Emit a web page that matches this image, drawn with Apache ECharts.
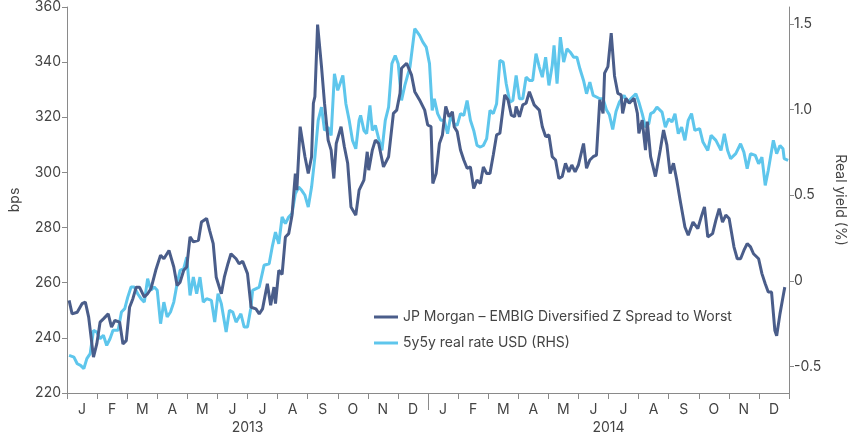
<!DOCTYPE html>
<html>
<head>
<meta charset="utf-8">
<script src="https://cdn.jsdelivr.net/npm/echarts@6/dist/echarts.min.js"></script>
<style>
  html, body { margin: 0; padding: 0; background: #fff; }
  #chart { width: 855px; height: 438px; }
</style>
</head>
<body>
<div id="chart"></div>
<script>
// months counted from 1 Jan 2013
const monthLabels = ['J','F','M','A','M','J','J','A','S','O','N','D','J','F','M','A','M','J','J','A','S','O','N','D']
const yearLabels = ['2013', '2014']
const rhsTicks = [-0.5, 0, 0.5, 1, 1.5]

// JP Morgan EMBIG Diversified Z spread (bps, left axis)
const spreadMonths = [0.07,0.17,0.34,0.50,0.61,0.72,0.88,0.99,1.10,1.21,1.37,1.48,1.59,1.75,1.86,1.97,2.08,2.19,2.30,2.41,2.57,2.68,2.79,2.95,3.11,3.22,3.39,3.55,3.66,3.76,3.88,3.98,4.09,4.20,4.37,4.47,4.64,4.74,4.86,4.96,5.13,5.23,5.35,5.45,5.62,5.72,5.84,6.00,6.12,6.28,6.39,6.50,6.66,6.77,6.88,6.93,7.04,7.15,7.26,7.37,7.48,7.59,7.64,7.75,7.91,8.02,8.13,8.19,8.24,8.33,8.46,8.56,8.68,8.78,8.87,8.95,9.11,9.22,9.33,9.44,9.60,9.71,9.87,9.98,10.03,10.15,10.25,10.36,10.52,10.69,10.85,10.96,11.07,11.12,11.29,11.45,11.56,11.72,11.89,11.99,12.10,12.16,12.27,12.38,12.48,12.59,12.70,12.81,12.87,12.97,13.08,13.19,13.30,13.41,13.52,13.63,13.74,13.84,13.95,14.06,14.17,14.28,14.39,14.55,14.66,14.77,14.88,14.93,15.04,15.15,15.26,15.37,15.53,15.70,15.80,15.91,16.02,16.13,16.24,16.35,16.46,16.57,16.68,16.78,16.89,17.00,17.17,17.27,17.38,17.49,17.60,17.71,17.82,17.87,17.98,18.09,18.20,18.31,18.42,18.47,18.58,18.69,18.85,18.96,19.01,19.12,19.23,19.29,19.40,19.56,19.72,19.83,19.94,20.05,20.16,20.27,20.38,20.54,20.65,20.81,20.97,21.08,21.19,21.30,21.46,21.57,21.68,21.79,21.90,22.01,22.17,22.28,22.39,22.50,22.61,22.72,22.82,22.99,23.10,23.21,23.31,23.42,23.53,23.59,23.70,23.80,23.86]
const spreadBps = [253.6,248.7,249.3,252.4,253,247.5,233,237.8,245.7,246.9,248.7,243.9,246.3,245.7,237.8,239,251.1,254.2,258.4,258.4,254.8,256,257.8,264.5,270,268.7,271.7,265.7,259,260.2,264.5,265.7,276.6,274.8,275.4,282,283.3,279,274.2,262,256,262,266.9,270.5,268.7,266.9,267.8,263.3,251.1,250.5,248.7,250.5,259.6,251.8,258.4,252.4,264.5,263,276.6,277.8,284.5,299.6,293.6,316.6,305.7,299.6,305.7,325.1,327.5,353.6,338.4,325.1,311.7,308.1,297.8,310.5,316.6,309.3,303.3,287.5,284.5,293.6,297.2,307.5,300.8,308.1,311.7,310.5,302,305.7,321.4,322.6,328.7,337.8,339.6,335.4,329.3,326.3,322.6,317.2,316.6,296,299.6,310.5,313.6,323.9,320.2,322,316.6,314.8,308.1,304.5,301.5,302,294.2,297.2,296,302,299.6,299.6,306.3,313.6,314.2,328.1,326.3,320.8,320.2,323.9,320.2,324.5,325.1,329.3,324.5,322.6,316.6,313,313.6,305.7,304.5,297.8,298.5,303.3,300.2,302.7,300.2,302.7,310.5,301.5,304.5,305.7,306.3,326.3,321.4,336,338.4,350.5,335,328.7,328.1,321.4,326.9,325.1,326.9,321.4,314.2,319,308.1,318.4,305.7,298.5,308.1,315.4,310,299.6,303.3,297.2,290,280.2,277.2,282,279.6,283.8,287.5,276.6,277.8,282.7,286.9,282,284.5,283.3,273,268.7,268.7,271.7,274.2,273,270.5,268.7,263.3,259.6,256.6,256.6,242.7,240.8,248.7,254.8,258.4]

// 5y5y real rate USD (%, right axis)
const realMonths = [0.07,0.23,0.34,0.45,0.56,0.66,0.77,0.88,0.99,1.10,1.21,1.32,1.43,1.53,1.70,1.81,1.92,2.02,2.13,2.24,2.35,2.46,2.57,2.68,2.79,2.90,3.00,3.11,3.22,3.33,3.44,3.55,3.66,3.76,3.88,3.98,4.09,4.20,4.31,4.42,4.53,4.64,4.80,4.91,5.02,5.13,5.29,5.40,5.51,5.62,5.78,5.89,6.00,6.11,6.17,6.39,6.55,6.72,6.82,6.93,7.04,7.15,7.26,7.37,7.48,7.59,7.70,7.80,7.91,8.02,8.13,8.24,8.35,8.46,8.56,8.68,8.78,8.89,9.00,9.17,9.27,9.38,9.49,9.60,9.71,9.76,9.87,9.96,10.07,10.15,10.25,10.36,10.47,10.58,10.69,10.80,10.91,11.01,11.12,11.23,11.40,11.56,11.72,11.83,11.94,12.05,12.14,12.21,12.32,12.43,12.54,12.65,12.76,12.87,12.97,13.08,13.19,13.30,13.41,13.52,13.63,13.74,13.84,13.95,14.06,14.17,14.28,14.39,14.50,14.60,14.72,14.82,14.93,15.04,15.15,15.26,15.37,15.48,15.59,15.70,15.80,15.91,16.02,16.13,16.19,16.29,16.40,16.51,16.62,16.73,16.84,16.95,17.05,17.17,17.27,17.38,17.49,17.60,17.71,17.82,17.93,18.03,18.14,18.25,18.36,18.52,18.63,18.74,18.91,19.01,19.12,19.23,19.34,19.40,19.50,19.61,19.78,19.89,20.00,20.11,20.21,20.32,20.43,20.54,20.65,20.76,20.87,21.03,21.14,21.30,21.41,21.57,21.74,21.85,21.96,22.06,22.23,22.39,22.50,22.61,22.72,22.88,22.99,23.10,23.21,23.31,23.48,23.59,23.70,23.80,23.84,23.97]
const realYield = [-0.435,-0.445,-0.484,-0.494,-0.513,-0.454,-0.425,-0.289,-0.299,-0.338,-0.318,-0.377,-0.338,-0.289,-0.289,-0.182,-0.162,-0.095,-0.036,-0.036,-0.075,-0.104,-0.124,0.013,-0.055,-0.036,-0.055,-0.25,-0.124,-0.211,-0.182,-0.124,-0.016,0.061,0.071,0.139,-0.085,0.022,-0.075,0.022,-0.124,-0.104,-0.114,-0.241,-0.075,-0.133,-0.299,-0.172,-0.182,-0.241,-0.192,-0.27,-0.27,-0.16,-0.055,-0.036,0.091,0.1,0.197,0.285,0.217,0.373,0.334,0.373,0.393,0.509,0.548,0.529,0.5,0.431,0.548,0.723,0.938,1.015,0.879,0.898,0.85,1.21,1.113,1.2,1.035,0.938,0.821,0.772,0.938,0.967,0.879,0.86,1.025,0.879,0.908,0.831,0.762,0.938,1.015,1.269,1.317,1.269,1.054,1.142,1.249,1.473,1.434,1.395,1.366,1.269,0.996,1.064,0.977,0.938,0.938,0.86,0.967,0.918,0.908,0.977,0.967,1.054,0.938,0.879,0.791,0.782,0.791,0.831,0.996,0.977,1.035,1.288,1.278,1.152,1.044,1.054,1.2,1.064,1.064,1.19,1.171,1.171,1.327,1.249,1.19,1.307,1.142,1.259,1.376,1.152,1.424,1.278,1.356,1.336,1.307,1.307,1.239,1.171,1.093,1.161,1.084,1.074,1.064,1.064,1.0,0.97,0.885,0.99,1.044,1.084,1.044,1.064,1.093,1.044,0.977,0.898,0.918,0.977,0.986,1.015,0.986,0.898,0.947,0.928,0.977,0.86,0.898,0.821,0.938,0.977,0.879,0.889,0.811,0.762,0.85,0.821,0.762,0.86,0.762,0.714,0.743,0.801,0.752,0.655,0.743,0.733,0.684,0.723,0.558,0.645,0.821,0.743,0.791,0.772,0.714,0.704]

const spreadName = 'JP Morgan – EMBIG Diversified Z Spread to Worst'
const realName = '5y5y real rate USD (RHS)'

const axisGrey = '#8a8a8a'
const textGrey = '#444'
const fontSize = 14

const chart = echarts.init(document.getElementById('chart'))

const option = {
  animation: false,
  textStyle: { fontFamily: 'Inter, sans-serif' },
  grid: { left: 61, right: 59, top: 7, bottom: 45 },
  legend: {
    data: [spreadName, realName],
    orient: 'vertical',
    left: 369,
    top: 305,
    itemWidth: 24,
    itemHeight: 12,
    itemGap: 12,
    icon: 'path://M0,5 L24,5 L24,8 L0,8 Z',
    textStyle: { color: textGrey, fontSize: fontSize, fontFamily: 'Inter, sans-serif' }
  },
  xAxis: [
    {
      type: 'value', min: 0, max: 24, interval: 1,
      axisLine: { onZero: false, lineStyle: { color: axisGrey } },
      axisTick: { length: 6, lineStyle: { color: axisGrey } },
      axisLabel: { show: false },
      splitLine: { show: false }
    },
    {
      type: 'category', data: monthLabels, position: 'bottom', boundaryGap: true,
      axisLine: { show: false, onZero: false }, axisTick: { show: false },
      axisLabel: { interval: 0, margin: 10, color: textGrey, fontSize: fontSize }
    },
    {
      type: 'category', data: yearLabels, position: 'bottom', boundaryGap: true,
      axisLine: { show: false, onZero: false }, axisTick: { show: false },
      axisLabel: { interval: 0, margin: 28, color: textGrey, fontSize: fontSize }
    },
    {
      type: 'value', min: 0, max: 24, position: 'bottom',
      axisLine: { show: false, onZero: false },
      axisTick: { show: true, customValues: [12], length: 17, lineStyle: { color: axisGrey } },
      axisLabel: { show: false },
      splitLine: { show: false }
    }
  ],
  yAxis: [
    {
      type: 'value', min: 220, max: 360, interval: 20,
      name: 'bps', nameLocation: 'middle', nameGap: 45,
      nameTextStyle: { color: textGrey, fontSize: fontSize },
      axisLine: { show: true, onZero: false, lineStyle: { color: axisGrey } },
      axisTick: { show: true, length: 5, lineStyle: { color: axisGrey } },
      axisLabel: { color: textGrey, fontSize: fontSize, margin: 6 },
      splitLine: { show: false }
    },
    {
      type: 'value', min: -0.655, max: 1.6, position: 'right',
      name: 'Real yield (%)', nameLocation: 'middle', nameGap: 44, nameRotate: -90,
      nameTextStyle: { color: textGrey, fontSize: fontSize },
      axisLine: { show: true, onZero: false, lineStyle: { color: axisGrey } },
      axisTick: { show: true, length: 5, customValues: rhsTicks, lineStyle: { color: axisGrey } },
      axisLabel: {
        color: textGrey, fontSize: fontSize, margin: 5, customValues: rhsTicks,
        formatter: (v) => (v === 0 ? '0' : v.toFixed(1))
      },
      splitLine: { show: false }
    }
  ],
  series: [
    {
      name: realName, type: 'line', yAxisIndex: 1,
      data: realMonths.map((m, i) => [m, realYield[i]]),
      showSymbol: false,
      lineStyle: { color: '#5ec6ec', width: 3 },
      itemStyle: { color: '#5ec6ec' }
    },
    {
      name: spreadName, type: 'line', yAxisIndex: 0,
      data: spreadMonths.map((m, i) => [m, spreadBps[i]]),
      showSymbol: false,
      lineStyle: { color: '#4a5d8a', width: 3 },
      itemStyle: { color: '#4a5d8a' }
    }
  ]
}

chart.setOption(option)
</script>
</body>
</html>
